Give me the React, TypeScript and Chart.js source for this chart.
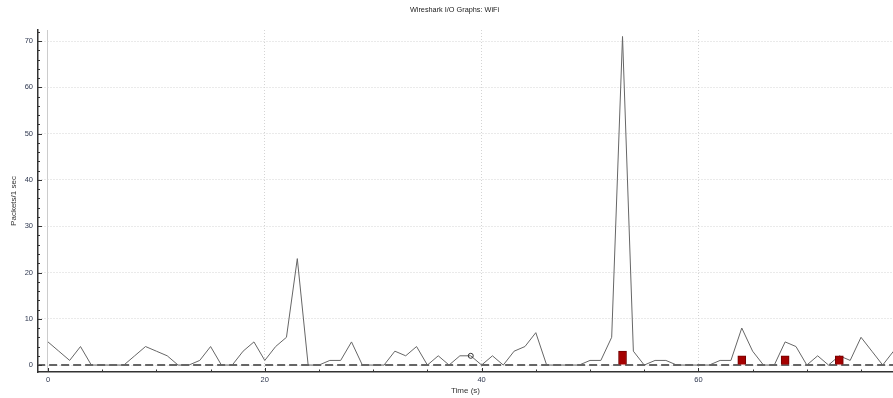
import React, { useEffect, useRef } from 'react';
import { Chart, registerables } from 'chart.js';

Chart.register(...registerables);

const chartTitle = 'Wireshark I/O Graphs: WiFi';
const xTitle = 'Time (s)';
const yTitle = 'Packets/1 sec';

const seconds = [
  0, 1, 2, 3, 4, 5, 6, 7, 8, 9, 10, 11, 12, 13, 14, 15, 16, 17, 18, 19,
  20, 21, 22, 23, 24, 25, 26, 27, 28, 29, 30, 31, 32, 33, 34, 35, 36, 37, 38, 39,
  40, 41, 42, 43, 44, 45, 46, 47, 48, 49, 50, 51, 52, 53, 54, 55, 56, 57, 58, 59,
  60, 61, 62, 63, 64, 65, 66, 67, 68, 69, 70, 71, 72, 73, 74, 75, 76, 77, 78,
];
const packets = [
  5, 3, 1, 4, 0, 0, 0, 0, 2, 4, 3, 2, 0, 0, 1, 4, 0, 0, 3, 5,
  1, 4, 6, 23, 0, 0, 1, 1, 5, 0, 0, 0, 3, 2, 4, 0, 2, 0, 2, 2,
  0, 2, 0, 3, 4, 7, 0, 0, 0, 0, 1, 1, 6, 71, 3, 0, 1, 1, 0, 0,
  0, 0, 1, 1, 8, 3, 0, 0, 5, 4, 0, 2, 0, 2, 1, 6, 3, 0, 3,
];

const errorTimes = [53, 64, 68, 73];
const errorValues = [3, 2, 2, 2];

const baselineTimes = [-1, 79];
const baselineValues = [0, 0];

const markerTimes = [39];
const markerValues = [2];

const FONT = "'Liberation Sans', Arial, sans-serif";
const LABEL_COLOR = '#2f3850';

const titlePlugin = {
  id: 'wsTitle',
  afterDraw(chart: any) {
    const ctx = chart.ctx;
    ctx.save();
    ctx.font = `7.3px ${FONT}`;
    ctx.fillStyle = '#222';
    ctx.textAlign = 'center';
    ctx.textBaseline = 'middle';
    ctx.fillText(chartTitle, 454.5, 10);
    ctx.restore();
  },
};

const tickMarksPlugin = {
  id: 'innerTicks',
  afterDraw(chart: any) {
    const ctx = chart.ctx;
    const { left, bottom } = chart.chartArea;
    const xs = chart.scales.x;
    const ys = chart.scales.y;
    ctx.save();
    ctx.strokeStyle = '#333';
    ctx.lineWidth = 1;
    ctx.beginPath();
    ys.ticks.forEach((t: any) => {
      const py = Math.round(ys.getPixelForValue(t.value)) + 0.5;
      const len = t.value % 10 === 0 ? 4 : 2;
      ctx.moveTo(left, py);
      ctx.lineTo(left + len, py);
    });
    xs.ticks.forEach((t: any) => {
      const px = Math.round(xs.getPixelForValue(t.value)) + 0.5;
      const len = t.value % 20 === 0 ? 4 : 2.5;
      ctx.moveTo(px, bottom);
      ctx.lineTo(px, bottom - len);
    });
    ctx.stroke();
    ctx.restore();
  },
};

export default function App() {
  const canvasRef = useRef<HTMLCanvasElement | null>(null);

  useEffect(() => {
    if (!canvasRef.current) return;
    const chart = new Chart(canvasRef.current, {
      type: 'line',
      data: {
        datasets: [
          {
            type: 'line',
            label: 'Packets',
            data: packets.map((v, i) => ({ x: seconds[i], y: v })),
            borderColor: '#666666',
            borderWidth: 1,
            pointRadius: 0,
            tension: 0,
            order: 3,
          },
          {
            type: 'line',
            label: 'Baseline',
            data: baselineValues.map((v, i) => ({ x: baselineTimes[i], y: v })),
            borderColor: '#666666',
            borderWidth: 2,
            borderDash: [8, 4],
            pointRadius: 0,
            order: 2,
          },
          {
            type: 'bar',
            label: 'Errors',
            data: errorValues.map((v, i) => ({ x: errorTimes[i], y: v })),
            backgroundColor: '#a50000',
            borderColor: '#700000',
            borderWidth: 1,
            barThickness: 8,
            order: 1,
          },
          {
            type: 'line',
            label: 'Marker',
            data: markerValues.map((v, i) => ({ x: markerTimes[i], y: v })),
            showLine: false,
            pointRadius: 2.5,
            pointBackgroundColor: 'rgba(255,255,255,0)',
            pointBorderColor: '#333',
            pointBorderWidth: 1,
            order: 0,
          },
        ] as any,
      },
      options: {
        responsive: false,
        animation: false,
        layout: { autoPadding: false, padding: { top: 30, left: 0, right: 0, bottom: 0 } },
        plugins: {
          legend: { display: false },
          tooltip: { enabled: false },
          title: { display: false },
        },
        scales: {
          x: {
            type: 'linear',
            offset: false,
            min: -0.92,
            max: 77.95,
            afterFit: (s: any) => {
              s.height = 26;
            },
            ticks: {
              stepSize: 5,
              maxTicksLimit: 1000,
              autoSkip: false,
              includeBounds: false,
              maxRotation: 0,
              padding: 3,
              color: LABEL_COLOR,
              font: { family: FONT, size: 7.5 },
              callback: (v: any) => (Number(v) % 20 === 0 ? String(v) : ''),
            },
            grid: {
              offset: false,
              drawTicks: false,
              lineWidth: 1,
              color: (c: any) => {
                const v = c.tick ? c.tick.value : NaN;
                if (v === 0) return '#cccccc';
                return v % 20 === 0 ? '#d4d4d4' : 'rgba(0,0,0,0)';
              },
            },
            border: {
              display: true,
              color: '#333',
              width: 1.5,
              dash: (c: any) => (c.tick && c.tick.value === 0 ? [] : [1, 2]),
            },
            title: {
              display: true,
              text: xTitle,
              color: '#333',
              font: { family: FONT, size: 8 },
              padding: { top: 0, bottom: 2.2 },
            },
          },
          y: {
            type: 'linear',
            min: -1.5,
            max: 72.4,
            afterFit: (s: any) => {
              s.width = 38;
            },
            ticks: {
              stepSize: 2,
              maxTicksLimit: 1000,
              autoSkip: false,
              includeBounds: false,
              padding: 5,
              color: LABEL_COLOR,
              font: { family: FONT, size: 7.5 },
              callback: (v: any) => (Number(v) % 10 === 0 ? String(v) : ''),
            },
            grid: {
              drawTicks: false,
              lineWidth: 1,
              color: (c: any) => {
                const v = c.tick ? c.tick.value : NaN;
                return v % 10 === 0 ? '#d4d4d4' : 'rgba(0,0,0,0)';
              },
            },
            border: {
              display: true,
              color: '#333',
              width: 1.5,
              dash: [1, 2],
            },
            title: {
              display: true,
              text: yTitle,
              color: '#333',
              font: { family: FONT, size: 8 },
              padding: { top: 9.2, bottom: 0 },
            },
          },
        },
      },
      plugins: [titlePlugin, tickMarksPlugin],
    } as any);
    return () => chart.destroy();
  }, []);

  return (
    <div
      style={{
        position: 'fixed',
        left: 0,
        top: 0,
        width: 893,
        height: 398,
        background: '#fff',
      }}
    >
      <canvas ref={canvasRef} width={893} height={398} style={{ width: 893, height: 398 }} />
    </div>
  );
}
